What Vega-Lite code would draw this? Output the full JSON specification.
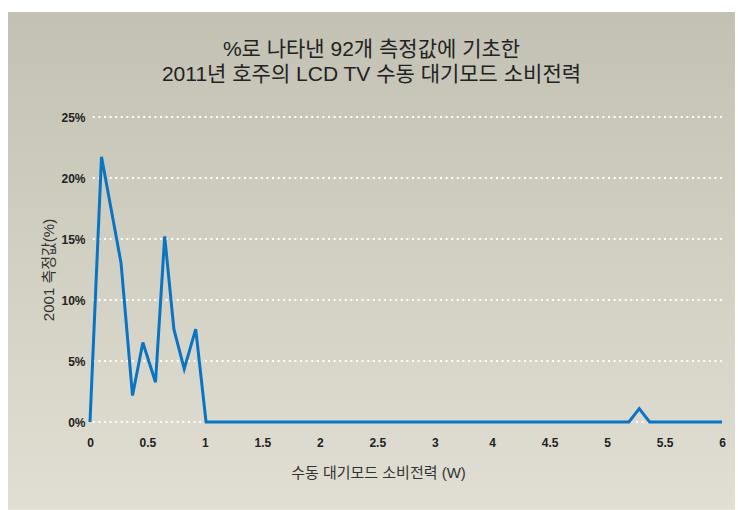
{
  "$schema": "https://vega.github.io/schema/vega-lite/v6.json",
  "width": 632,
  "height": 305,
  "padding": {"left": 8, "top": 12, "right": 3, "bottom": 0},
  "background": "white",
  "config": {"view": {"stroke": null}, "font": "Liberation Sans, Noto Sans CJK KR"},
  "title": {
    "text": ["%로 나타낸 92개 측정값에 기초한", "2011년 호주의 LCD TV 수동 대기모드 소비전력"],
    "fontSize": 21,
    "fontWeight": "normal",
    "color": "#222222",
    "font": "Liberation Sans, Noto Sans CJK KR",
    "lineHeight": 25,
    "anchor": "middle",
    "frame": "bounds",
    "offset": -73
  },
  "layer": [
    {
      "data": {"values": [{}]},
      "mark": {
        "type": "rect",
        "fill": {
          "gradient": "linear",
          "x1": 0, "y1": 0, "x2": 0, "y2": 1,
          "stops": [
            {"offset": 0, "color": "#c3c1b3"},
            {"offset": 1, "color": "#e1dfd3"}
          ]
        }
      },
      "encoding": {
        "x": {"datum": -0.7136, "type": "quantitative", "title": "수동 대기모드 소비전력 (W)",
              "scale": {"domain": [0, 3, 4, 6], "range": [0, 344.73, 402.18, 632], "nice": false, "zero": false}},
        "x2": {"datum": 6.113},
        "y": {"datum": 33.6, "type": "quantitative", "title": "2001 측정값(%)",
              "scale": {"domain": [0, 25], "nice": false, "zero": false}},
        "y2": {"datum": -7.2}
      }
    },
    {
      "data": {"values": [{"pct": 0}, {"pct": 5}, {"pct": 10}, {"pct": 15}, {"pct": 20}, {"pct": 25}]},
      "mark": {"type": "rule", "stroke": "white", "strokeWidth": 2, "strokeDash": [2, 3.6]},
      "encoding": {
        "y": {"field": "pct", "type": "quantitative", "title": "2001 측정값(%)"}
      }
    },
    {
      "data": {
        "values": [
          {"w": 0, "pct": 0},
          {"w": 0.1, "pct": 21.74},
          {"w": 0.185, "pct": 17.39},
          {"w": 0.27, "pct": 13.04},
          {"w": 0.37, "pct": 2.17},
          {"w": 0.46, "pct": 6.52},
          {"w": 0.57, "pct": 3.26},
          {"w": 0.65, "pct": 15.22},
          {"w": 0.73, "pct": 7.61},
          {"w": 0.82, "pct": 4.35},
          {"w": 0.92, "pct": 7.61},
          {"w": 1.01, "pct": 0},
          {"w": 5.19, "pct": 0},
          {"w": 5.28, "pct": 1.09},
          {"w": 5.37, "pct": 0},
          {"w": 6, "pct": 0}
        ]
      },
      "mark": {"type": "line", "color": "#0a74c4", "strokeWidth": 3, "strokeJoin": "miter"},
      "encoding": {
        "x": {
          "field": "w", "type": "quantitative", "title": "수동 대기모드 소비전력 (W)",
          "scale": {"domain": [0, 3, 4, 6], "range": [0, 344.73, 402.18, 632], "nice": false, "zero": false},
          "axis": {
            "zindex": 1,
            "values": [0, 0.5, 1, 1.5, 2, 2.5, 3, 4, 4.5, 5, 5.5, 6],
            "format": "~g",
            "grid": false, "domain": false, "ticks": false,
            "labelFont": "Liberation Sans", "labelFontSize": 12, "labelFontWeight": "bold", "labelColor": "#222222",
            "labelPadding": 15, "labelFlush": false,
            "titleFont": "Liberation Sans, Noto Sans CJK KR", "titleFontSize": 15, "titleFontWeight": "normal", "titleColor": "#333333",
            "titlePadding": 17, "titleX": 288
          }
        },
        "y": {
          "field": "pct", "type": "quantitative", "title": "2001 측정값(%)",
          "scale": {"domain": [0, 25], "nice": false, "zero": false},
          "axis": {
            "zindex": 1,
            "values": [0, 5, 10, 15, 20, 25],
            "labelExpr": "datum.value + '%'",
            "grid": false, "domain": false, "ticks": false,
            "labelFont": "Liberation Sans", "labelFontSize": 12, "labelFontWeight": "bold", "labelColor": "#222222",
            "labelPadding": 5,
            "titleFont": "Liberation Sans, Noto Sans CJK KR", "titleFontSize": 15, "titleFontWeight": "normal", "titleColor": "#333333",
            "titlePadding": 4
          }
        }
      }
    }
  ]
}
